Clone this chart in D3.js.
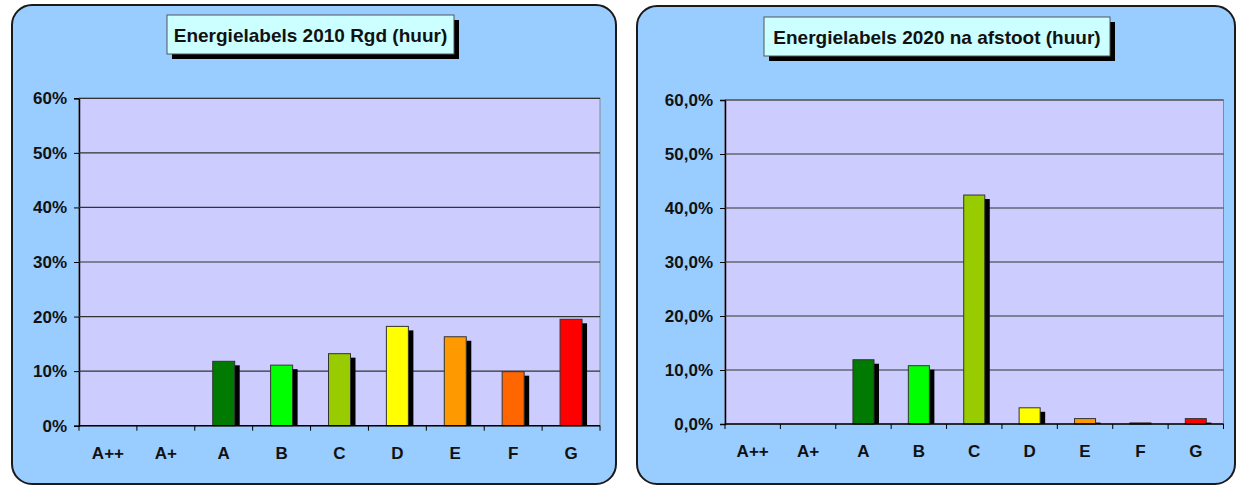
<!DOCTYPE html>
<html>
<head>
<meta charset="utf-8">
<script src="https://cdn.jsdelivr.net/npm/d3@7"></script>
<style>
  body { margin: 0; background: #fff; }
  text { font-family: "Liberation Sans", Arial, sans-serif; font-weight: bold; fill: #111; }
</style>
</head>
<body>
<svg id="chart" width="1238" height="486"></svg>
<script>
// data
var labels = ["A++", "A+", "A", "B", "C", "D", "E", "F", "G"];
var barColors = ["#008000", "#33cc00", "#007a00", "#00ff00", "#99cc00", "#ffff00", "#ff9900", "#ff6600", "#ff0000"];
var values2010 = [0, 0, 11.8, 11.1, 13.2, 18.2, 16.3, 9.9, 19.5];
var values2020 = [0, 0, 11.9, 10.8, 42.4, 3.0, 1.0, 0.2, 1.0];
var yTicks = [0, 10, 20, 30, 40, 50, 60];
var titles = ["Energielabels 2010 Rgd (huur)", "Energielabels 2020 na afstoot (huur)"];

var svg = d3.select("#chart");

function drawPanel(opt) {
    var g = svg.append("g");

    // rounded background panel
    g.append("rect")
        .attr("x", opt.box[0]).attr("y", opt.box[1])
        .attr("width", opt.box[2]).attr("height", opt.box[3])
        .attr("rx", 20).attr("ry", 20)
        .attr("fill", "#99ccff")
        .attr("stroke", "#1a1a1a")
        .attr("stroke-width", 2);

    var x = d3.scaleBand().domain(labels).range([opt.plot[0], opt.plot[1]]);
    var y = d3.scaleLinear().domain([0, 60]).range([opt.plot[3], opt.plot[2]]);

    // plot area
    g.append("rect")
        .attr("x", opt.plot[0]).attr("y", opt.plot[2])
        .attr("width", opt.plot[1] - opt.plot[0])
        .attr("height", opt.plot[3] - opt.plot[2])
        .attr("fill", "#ccccff")
        .attr("stroke", "#888")
        .attr("stroke-width", 1);

    // gridlines + y labels
    var yAxis = d3.axisLeft(y)
        .tickValues(yTicks)
        .tickSize(5)
        .tickPadding(7)
        .tickFormat(opt.fmt);
    var ya = g.append("g")
        .attr("transform", "translate(" + opt.plot[0] + ",0)")
        .call(yAxis);
    ya.attr("font-size", 17).attr("font-family", null);
    ya.select(".domain").attr("stroke", "#000").attr("stroke-width", 1.5);
    ya.selectAll(".tick line").attr("stroke", "#000");
    ya.selectAll(".tick text").attr("fill", "#111");

    g.selectAll(".grid")
        .data(yTicks.filter(function(d) { return d > 0; }))
        .enter().append("line")
        .attr("x1", opt.plot[0]).attr("x2", opt.plot[1])
        .attr("y1", function(d) { return y(d); })
        .attr("y2", function(d) { return y(d); })
        .attr("stroke", "#333")
        .attr("stroke-width", 1.2);

    // bars with drop shadow
    var bw = x.bandwidth() * 0.38;
    var data = labels.map(function(l, i) { return {label: l, value: opt.values[i], color: barColors[i]}; });
    var bars = g.selectAll(".bar").data(data.filter(function(d) { return d.value > 0; })).enter();

    bars.append("rect")
        .attr("x", function(d) { return x(d.label) + (x.bandwidth() - bw) / 2 + 5; })
        .attr("y", function(d) { return Math.min(y(d.value) + 4, y(0)); })
        .attr("width", bw)
        .attr("height", function(d) { return Math.max(0, y(0) - y(d.value) - 4); })
        .attr("fill", "#000");

    bars.append("rect")
        .attr("x", function(d) { return x(d.label) + (x.bandwidth() - bw) / 2; })
        .attr("y", function(d) { return y(d.value); })
        .attr("width", bw)
        .attr("height", function(d) { return y(0) - y(d.value); })
        .attr("fill", function(d) { return d.color; })
        .attr("stroke", "#333")
        .attr("stroke-width", 1);

    // x axis line, tick marks at band edges, labels
    g.append("line")
        .attr("x1", opt.plot[0]).attr("x2", opt.plot[1])
        .attr("y1", y(0)).attr("y2", y(0))
        .attr("stroke", "#000").attr("stroke-width", 1.5);

    var edges = labels.map(function(l) { return x(l); }).concat([opt.plot[1]]);
    g.selectAll(".xt").data(edges).enter().append("line")
        .attr("x1", function(d) { return d; }).attr("x2", function(d) { return d; })
        .attr("y1", y(0)).attr("y2", y(0) + 5)
        .attr("stroke", "#000");

    g.selectAll(".xl").data(labels).enter().append("text")
        .attr("x", function(d) { return x(d) + x.bandwidth() / 2; })
        .attr("y", opt.plot[3] + 33)
        .attr("text-anchor", "middle")
        .attr("font-size", 17)
        .text(function(d) { return d; });

    // title box with shadow
    var tb = opt.title;
    g.append("rect")
        .attr("x", tb[0] + 5).attr("y", tb[1] + 5)
        .attr("width", tb[2]).attr("height", tb[3])
        .attr("fill", "#000");
    g.append("rect")
        .attr("x", tb[0]).attr("y", tb[1])
        .attr("width", tb[2]).attr("height", tb[3])
        .attr("fill", "#ccffff")
        .attr("stroke", "#555").attr("stroke-width", 1);
    g.append("text")
        .attr("x", tb[0] + tb[2] / 2)
        .attr("y", tb[1] + tb[3] / 2 + 7)
        .attr("text-anchor", "middle")
        .attr("font-size", 19)
        .text(opt.text);
}

drawPanel({
    box: [12, 5, 604, 479],
    plot: [79, 600, 98.3, 425.7],
    title: [167, 15, 287, 39],
    text: titles[0],
    values: values2010,
    fmt: function(d) { return d + "%"; }
});

drawPanel({
    box: [637, 6, 598, 478],
    plot: [725, 1223.5, 100, 424],
    title: [764, 17, 346, 39],
    text: titles[1],
    values: values2020,
    fmt: function(d) { return d3.format(".1f")(d).replace(".", ",") + "%"; }
});
</script>
</body>
</html>
